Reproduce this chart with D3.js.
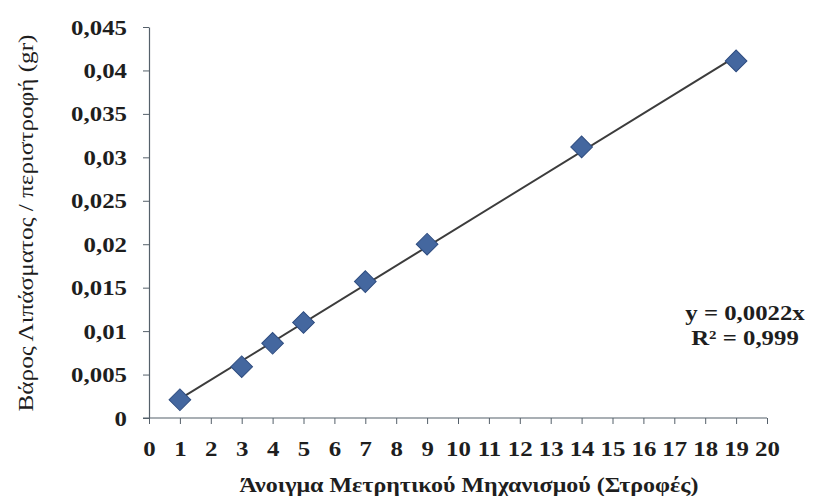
<!DOCTYPE html>
<html>
<head>
<meta charset="utf-8">
<script src="https://cdn.jsdelivr.net/npm/d3@7"></script>
<style>
  html, body { margin: 0; padding: 0; background: #ffffff; }
  svg { display: block; }
  text { font-family: "Liberation Serif", "Times New Roman", serif; fill: #1e1e1e; }
</style>
</head>
<body>
<svg id="chart" width="813" height="496"></svg>
<script>
// Turns of the metering mechanism and fertiliser weight per revolution (gr)
const turns = [1, 3, 4, 5, 7, 9, 14, 19];
const weightPerTurn = [0.0021, 0.0059, 0.0086, 0.0110, 0.0157, 0.0200, 0.0312, 0.0411];

const xTicks = [0, 1, 2, 3, 4, 5, 6, 7, 8, 9, 10, 11, 12, 13, 14, 15, 16, 17, 18, 19, 20];
const yTicks = [0, 0.005, 0.01, 0.015, 0.02, 0.025, 0.03, 0.035, 0.04, 0.045];

const xTitle = "Άνοιγμα Μετρητικού Μηχανισμού (Στροφές)";
const yTitle = "Βάρος Λιπάσματος / περιστροφή (gr)";
const rSquaredLabel = "R² = 0,999";

// Layout
const W = 813, H = 496;
const plot = { left: 149, right: 767, top: 27, bottom: 418 };
const stretch = 1.13; // horizontal widening of the serif glyphs

const svg = d3.select("#chart");
svg.append("rect").attr("width", W).attr("height", H).attr("fill", "#ffffff");

const x = d3.scaleLinear().domain([0, 20]).range([plot.left, plot.right]);
const y = d3.scaleLinear().domain([0, 0.045]).range([plot.bottom, plot.top]);

// Greek-style number formatting (decimal comma)
const locale = d3.formatLocale({ decimal: ",", thousands: ".", grouping: [3], currency: ["", " €"] });
const fmt = locale.format("~g");

// Least-squares slope of a line through the origin
const slope = d3.sum(turns, (t, i) => t * weightPerTurn[i]) / d3.sum(turns, t => t * t);
const eqLabel = "y = " + locale.format(".4f")(slope) + "x";

// Axes
const axisColor = "#55606a";
const yAxis = svg.append("g")
  .attr("transform", `translate(${plot.left},0)`)
  .call(d3.axisLeft(y).tickValues(yTicks).tickFormat(fmt).tickSize(6).tickPadding(16).tickSizeOuter(0));
const xAxis = svg.append("g")
  .attr("transform", `translate(0,${plot.bottom})`)
  .call(d3.axisBottom(x).tickValues(xTicks).tickFormat(d3.format("d")).tickSize(6).tickPadding(16).tickSizeOuter(0));

[yAxis, xAxis].forEach(g => {
  g.attr("font-family", null).attr("font-size", null);
  g.select(".domain").attr("stroke", axisColor).attr("stroke-width", 1.2);
  g.selectAll(".tick line").attr("stroke", axisColor).attr("stroke-width", 1);
  g.selectAll(".tick text")
    .attr("fill", "#222222")
    .attr("font-weight", "bold")
    .style("font-family", "'Liberation Serif', serif")
    .style("font-size", "22px")
    .style("font-weight", "bold");
});
// horizontal axis line also runs under the vertical tick marks
xAxis.select(".domain").attr("d", `M${plot.left - 6},0H${plot.right}`);

// widen the tick labels around their anchor
yAxis.selectAll(".tick text").each(function () {
  const t = d3.select(this);
  const tx = +t.attr("x");
  t.attr("x", 0).attr("transform", `translate(${tx},0) scale(${stretch},1)`);
});
xAxis.selectAll(".tick text").each(function () {
  const t = d3.select(this);
  const ty = +t.attr("y");
  t.attr("y", 0).attr("transform", `translate(0,${ty}) scale(${stretch},1)`);
});

// Trend line through the origin, spanning the data range
const xExt = d3.extent(turns);
svg.append("path")
  .attr("d", d3.line().x(d => x(d)).y(d => y(slope * d))(xExt))
  .attr("stroke", "#3c3c3c")
  .attr("stroke-width", 2)
  .attr("fill", "none");

// Diamond markers
const diamond = d3.symbol().type(d3.symbolSquare).size(235);
svg.append("g").selectAll("path")
  .data(turns.map((t, i) => [t, weightPerTurn[i]]))
  .join("path")
  .attr("d", diamond)
  .attr("transform", d => `translate(${x(d[0])},${y(d[1])}) rotate(45)`)
  .attr("fill", "#44679f")
  .attr("stroke", "#2f4d80")
  .attr("stroke-width", 1);

// Regression equation
const eq = svg.append("g").attr("transform", "translate(745,0)");
eq.append("text")
  .attr("transform", `translate(0,320) scale(1.18,1)`)
  .attr("text-anchor", "middle")
  .style("font-size", "21px")
  .style("font-weight", "bold")
  .text(eqLabel);
eq.append("text")
  .attr("transform", `translate(0,345) scale(1.18,1)`)
  .attr("text-anchor", "middle")
  .style("font-size", "21px")
  .style("font-weight", "bold")
  .text(rSquaredLabel);

// Axis titles
svg.append("text")
  .attr("transform", `translate(469,492) scale(1.2,1)`)
  .attr("text-anchor", "middle")
  .style("font-size", "20px")
  .style("font-weight", "bold")
  .text(xTitle);

svg.append("text")
  .attr("transform", `translate(33,223) rotate(-90) scale(1.2,1)`)
  .attr("text-anchor", "middle")
  .style("font-size", "21px")
  .attr("fill", "#111111")
  .text(yTitle);
</script>
</body>
</html>
